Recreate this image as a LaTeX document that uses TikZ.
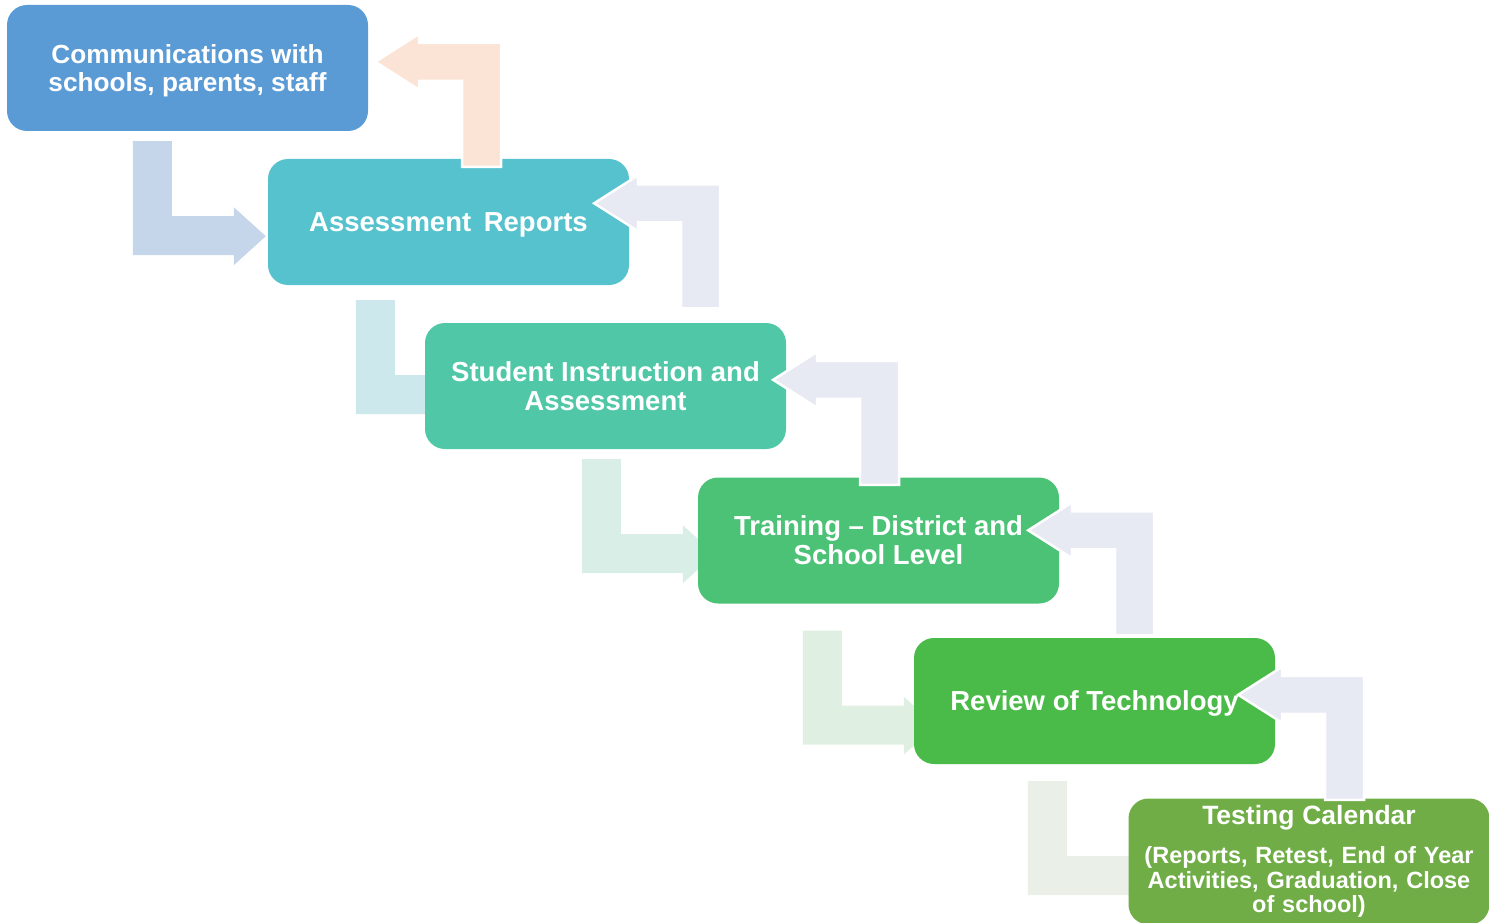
\documentclass[tikz,border=0pt]{standalone}
\usepackage{fontspec}
\setmainfont{Liberation Sans}
\usepackage{xcolor}
\usetikzlibrary{backgrounds}

\definecolor{comm_blue}{HTML}{5B9BD5}
\definecolor{report_teal}{HTML}{55C2CD}
\definecolor{instr_green}{HTML}{50C8A8}
\definecolor{train_green}{HTML}{4CC277}
\definecolor{tech_green}{HTML}{4ABB48}
\definecolor{cal_green}{HTML}{70AD47}
\definecolor{down1}{HTML}{C5D5EA}
\definecolor{down2}{HTML}{CDE8EC}
\definecolor{down3}{HTML}{D8EEE6}
\definecolor{down4}{HTML}{DFEFE1}
\definecolor{down5}{HTML}{EAEFE7}
\definecolor{back_peach}{HTML}{FBE4D5}
\definecolor{back_grey}{HTML}{E7E9F3}

\tikzset{
  pics/bend_down/.style={code={
    \fill[#1] (0,0) -- (39,0) -- (39,75) -- (101,75) -- (101,66) -- (133,95)
      -- (101,124) -- (101,114) -- (0,114) -- cycle;}},
  pics/bend_up/.style={code={
    \filldraw[fill=#1, draw=white, line width=2.5pt] (0,0) -- (-82,0) -- (-82,-9)
      -- (-126,19) -- (-82,47) -- (-82,38) -- (-39,38) -- (-39,124) -- (0,124) -- cycle;}}
}

\begin{document}
\begin{tikzpicture}[x=1pt,y=-1pt]
      \tikzstyle{stage_base}=[rounded corners=20pt, minimum width=361pt, minimum height=126pt,
        inner sep=2pt, text=white, align=center]
      \tikzstyle{stage}=[stage_base, text depth=0pt, font=\fontsize{27.5}{29}\selectfont\bfseries]
      \tikzstyle{stage_small}=[stage_base, text width=350pt, font=\fontsize{23.5}{24.5}\selectfont\bfseries]

      \useasboundingbox (0,0) rectangle (1489,923);

      % the six stages
      \node (comm) [stage, fill=comm_blue, font=\fontsize{26.2}{28}\selectfont\bfseries] at (187.5,68)
        {Communications with\\schools, parents, staff};
      \node (reports) [stage, fill=report_teal] at (448.5,222) {Assessment\hspace{5pt} Reports};
      \node (instr) [stage, fill=instr_green] at (605.5,386) {Student Instruction and\\Assessment};
      \node (training) [stage, fill=train_green] at (878.5,540.5) {Training -- District and\\School Level};
      \node (tech) [stage, fill=tech_green] at (1094.5,701) {Review of Technology};
      \node (calendar) [stage_small, fill=cal_green] at (1309,861.5)
        {{\fontsize{26.5}{28}\selectfont Testing Calendar\par}\vspace{15pt}
         (Reports, Retest, End of Year\\Activities, Graduation, Close\\of school)};

      % forward arrows, behind the boxes
      \begin{scope}[on background layer]
        \pic at ([shift={(126,10)}]comm.south west) {bend_down=down1};
        \pic at ([shift={(88,15)}]reports.south west) {bend_down=down2};
        \pic at ([shift={(157,10)}]instr.south west) {bend_down=down3};
        \pic at ([shift={(105,27)}]training.south west) {bend_down=down4};
        \pic at ([shift={(114,17)}]tech.south west) {bend_down=down5};
      \end{scope}

      % return arrows, on top
      \pic at ([shift={(133,38)}]comm.north east) {bend_up=back_peach};
      \pic at ([shift={(91,25.5)}]reports.north east) {bend_up=back_grey};
      \pic at ([shift={(113,38)}]instr.north east) {bend_up=back_grey};
      \pic at ([shift={(95,34)}]training.north east) {bend_up=back_grey};
      \pic at ([shift={(89,38)}]tech.north east) {bend_up=back_grey};
\end{tikzpicture}
\end{document}
